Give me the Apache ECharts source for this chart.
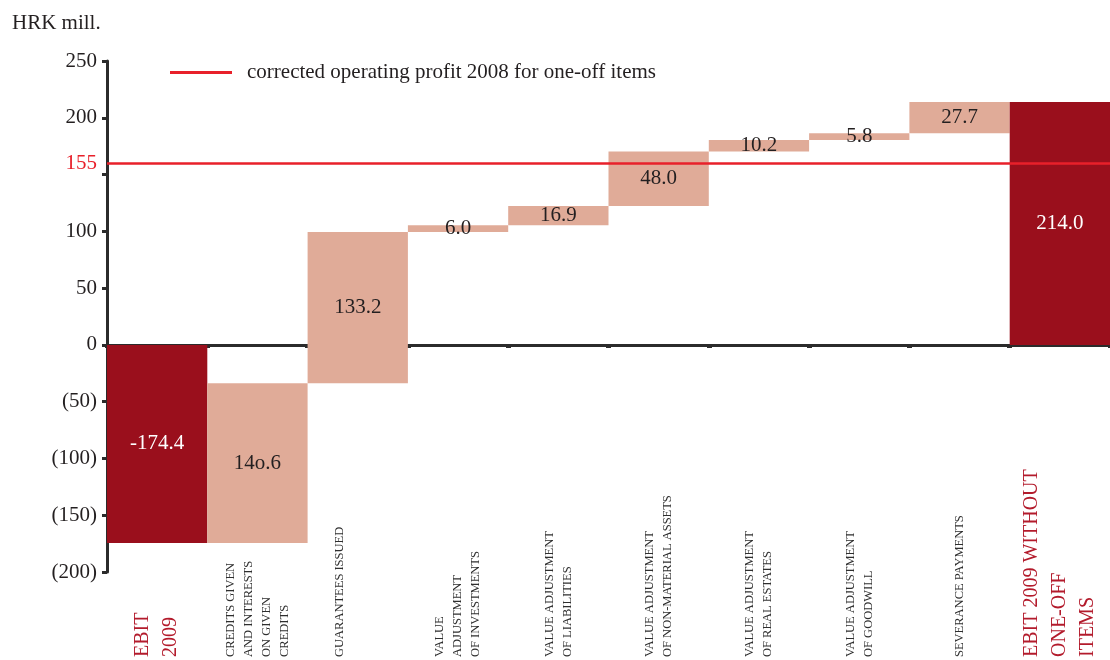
<!DOCTYPE html>
<html><head><meta charset="utf-8">
<script src="https://cdn.jsdelivr.net/npm/echarts@6/dist/echarts.min.js"></script>
<style>html,body{margin:0;padding:0;background:#fff}#c{width:1110px;height:660px}</style>
</head><body><div id="c"></div>
<script>
const categories = [
  'EBIT\n2009',
  'CREDITS GIVEN\nAND INTERESTS\nON GIVEN\nCREDITS',
  'GUARANTEES ISSUED\n\n',
  'VALUE\nADJUSTMENT\nOF INVESTMENTS',
  'VALUE ADJUSTMENT\nOF LIABILITIES',
  'VALUE ADJUSTMENT\nOF NON-MATERIAL ASSETS',
  'VALUE ADJUSTMENT\nOF REAL ESTATES',
  'VALUE ADJUSTMENT\nOF GOODWILL',
  'SEVERANCE PAYMENTS',
  'EBIT 2009 WITHOUT\nONE-OFF\nITEMS'
];
const values = [-174.4, 140.6, 133.2, 6.0, 16.9, 48.0, 10.2, 5.8, 27.7, 214.0];
const isTotal = [true, false, false, false, false, false, false, false, false, true];
const valueLabels = ['-174.4', '14o.6', '133.2', '6.0', '16.9', '48.0', '10.2', '5.8', '27.7', '214.0'];
const refLineValue = 160;
const refLineLabel = '155';
const legendName = 'corrected operating profit 2008 for one-off items';
const yTicks = { min: -200, max: 250, interval: 50 };

const DARK = '#9a0f1c', LIGHT = '#e0ab98', RED = '#e8202a', TXT = '#231f20';
const FONT = '"Liberation Serif", "DejaVu Serif", serif';

let running = 0;
const base = [], delta = [];
values.forEach((v, i) => {
  if (isTotal[i]) { base.push(0); delta.push(v); running = v; }
  else { base.push(running); delta.push(v); running += v; }
});

const chart = echarts.init(document.getElementById('c'), null, { renderer: 'canvas' });
chart.setOption({
  animation: false,
  textStyle: { fontFamily: FONT },
  title: { text: 'HRK mill.', left: 7, top: 8, textStyle: { fontFamily: FONT, fontSize: 21, fontWeight: 'normal', color: TXT } },
  legend: {
    data: [legendName], left: 165, top: 57, icon: 'rect', itemWidth: 62, itemHeight: 3,
    textStyle: { fontFamily: FONT, fontSize: 21, color: TXT, padding: [0, 0, 0, 10] }
  },
  grid: { left: 107, right: 0, top: 61, bottom: 88, containLabel: false, outerBoundsMode: 'none' },
  xAxis: [
    {
      type: 'category', data: categories, position: 'bottom',
      axisLine: { onZero: true, lineStyle: { color: '#2b2b2b', width: 3 } },
      axisTick: { show: true, interval: 0, length: 3, lineStyle: { width: 5, color: '#2b2b2b' } },
      axisLabel: { show: false }, splitLine: { show: false }
    },
    {
      type: 'category', position: 'bottom',
      data: categories.map((c, i) => isTotal[i]
        ? { value: c, textStyle: { fontSize: 20, color: '#b31b2c', lineHeight: 28, align: 'left', verticalAlign: 'middle' } }
        : { value: c }),
      axisLine: { show: false, onZero: false }, axisTick: { show: false },
      axisLabel: { interval: 0, rotate: 90, align: 'left', verticalAlign: 'middle', margin: 85,
        fontFamily: FONT, fontSize: 12.5, lineHeight: 18, color: '#2e2e2e' }
    }
  ],
  yAxis: {
    type: 'value', min: yTicks.min, max: yTicks.max, interval: yTicks.interval,
    axisLine: { show: true, lineStyle: { color: '#2b2b2b', width: 3 } },
    axisTick: { show: true, length: 5, lineStyle: { width: 3, color: '#2b2b2b' } },
    splitLine: { show: false },
    axisLabel: { margin: 10, fontFamily: FONT, fontSize: 21, color: TXT,
      formatter: v => v === 150 ? '' : (v < 0 ? '(' + (-v) + ')' : String(v)) }
  },
  series: [
    {
      name: 'base', type: 'bar', stack: 'w', stackStrategy: 'all', data: base,
      barWidth: '100%', itemStyle: { color: 'transparent' }, silent: true
    },
    {
      name: 'delta', type: 'bar', stack: 'w', stackStrategy: 'all', barWidth: '100%',
      data: delta.map((v, i) => ({ value: v, itemStyle: { color: isTotal[i] ? DARK : LIGHT }, label: { color: isTotal[i] ? '#ffffff' : TXT } })),
      label: {
        show: true, position: 'inside', fontFamily: FONT, fontSize: 21,
        formatter: p => valueLabels[p.dataIndex]
      }
    },
    {
      name: legendName, type: 'line', data: [], itemStyle: { color: RED }, lineStyle: { color: RED },
      markLine: {
        silent: true, symbol: 'none',
        lineStyle: { color: RED, width: 2.5, type: 'solid' },
        label: { show: true, position: 'start', distance: 10, formatter: refLineLabel, color: RED, fontFamily: FONT, fontSize: 21 },
        data: [{ yAxis: refLineValue }]
      }
    }
  ]
});
</script></body></html>
